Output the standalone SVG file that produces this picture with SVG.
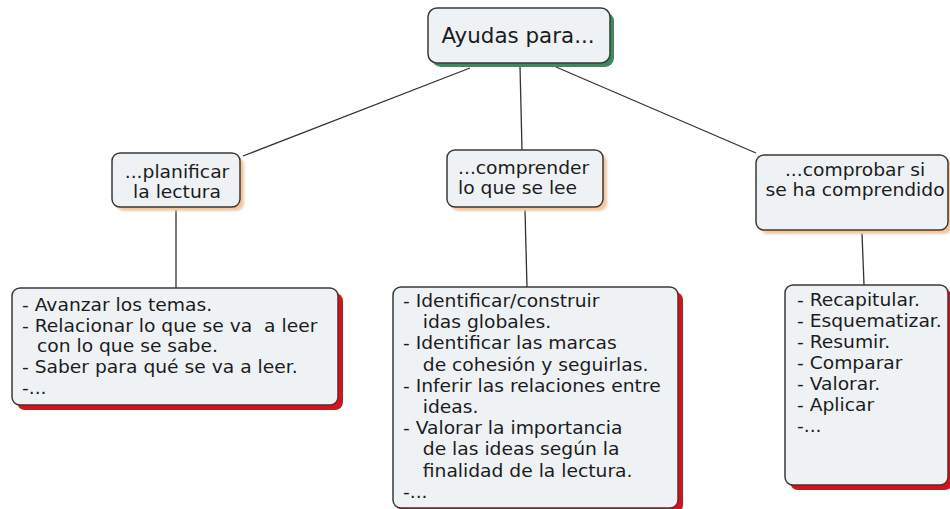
<svg xmlns="http://www.w3.org/2000/svg" width="950" height="509" viewBox="0 0 950 509">
<defs>
<filter id="soft" x="-10%" y="-10%" width="120%" height="130%"><feGaussianBlur stdDeviation="1.2"/></filter>
</defs>
<style>
.box{fill:#eef2f5;stroke:#3a3a3a;stroke-width:1.5}
.sg{fill:#3d8a5c}
.sp{fill:#f6c79e}
.sr{fill:#d8121b}
.t{font-family:"DejaVu Sans",Verdana,sans-serif;font-size:17px;fill:#1c1c1c}
.c{fill:none;stroke:#333;stroke-width:1.3}
</style>
<rect width="950" height="509" fill="#ffffff"/>
<g id="connectors">
<line class="c" x1="470" y1="68" x2="243" y2="156"/>
<line class="c" x1="520" y1="66" x2="522" y2="150"/>
<line class="c" x1="556" y1="67" x2="756" y2="153"/>
<line class="c" x1="176" y1="210" x2="176" y2="288"/>
<line class="c" x1="525" y1="210" x2="527" y2="287"/>
<line class="c" x1="862" y1="233" x2="864" y2="285"/>
</g>
<g id="root">
<rect class="sg" x="432" y="12" width="182" height="55" rx="9"/>
<rect class="box" x="428" y="8" width="182" height="55" rx="9"/>
<g transform="translate(518 43) scale(1.02 1)"><text class="t" style="font-size:21px" text-anchor="middle" x="0" y="0">Ayudas para...</text></g>
</g>
<g id="planificar">
<rect class="sp" x="116" y="157" width="128" height="54" rx="8" filter="url(#soft)"/>
<rect class="box" x="112" y="153" width="128" height="54" rx="8"/>
<g transform="translate(177 0) scale(1.1 1)" class="t" text-anchor="middle">
<text x="0" y="178">...planificar</text>
<text x="0" y="198">la lectura</text>
</g>
</g>
<g id="comprender">
<rect class="sp" x="451" y="154" width="156" height="57" rx="8" filter="url(#soft)"/>
<rect class="box" x="447" y="150" width="156" height="57" rx="8"/>
<g transform="translate(458 0) scale(1.1 1)" class="t">
<text x="0" y="174">...comprender</text>
<text x="0" y="194">lo que se lee</text>
</g>
</g>
<g id="comprobar">
<rect class="sp" x="760" y="159" width="192" height="75" rx="8" filter="url(#soft)"/>
<rect class="box" x="756" y="155" width="192" height="75" rx="8"/>
<g transform="translate(855 0) scale(1.1 1)" class="t" text-anchor="middle">
<text x="0" y="176">...comprobar si</text>
<text x="0" y="196">se ha comprendido</text>
</g>
</g>
<g id="bottom-left">
<rect class="sr" x="17" y="293" width="326" height="117" rx="8"/>
<rect class="box" x="12" y="288" width="326" height="117" rx="8"/>
<g transform="translate(22 0) scale(1.1 1)" class="t">
<text x="0" y="311">- Avanzar los temas.</text>
<text x="0" y="332" xml:space="preserve">- Relacionar lo que se va  a leer</text>
<text x="13.6" y="352.5">con lo que se sabe.</text>
<text x="0" y="373">- Saber para qué se va a leer.</text>
<text x="0" y="394">-...</text>
</g>
</g>
<g id="bottom-middle">
<rect class="sr" x="398" y="292" width="285" height="221" rx="8"/>
<rect class="box" x="393" y="287" width="285" height="221" rx="8"/>
<g transform="translate(403 0) scale(1.1 1)" class="t">
<text x="0" y="307">- Identificar/construir</text>
<text x="18" y="328.2">idas globales.</text>
<text x="0" y="349.4">- Identificar las marcas</text>
<text x="18" y="370.6">de cohesión y seguirlas.</text>
<text x="0" y="391.8">- Inferir las relaciones entre</text>
<text x="18" y="413">ideas.</text>
<text x="0" y="434.2">- Valorar la importancia</text>
<text x="18" y="455.4">de las ideas según la</text>
<text x="18" y="476.6">finalidad de la lectura.</text>
<text x="0" y="497.8">-...</text>
</g>
</g>
<g id="bottom-right">
<rect class="sr" x="790" y="290" width="163" height="200" rx="8"/>
<rect class="box" x="785" y="285" width="163" height="200" rx="8"/>
<g transform="translate(797 0) scale(1.1 1)" class="t">
<text x="0" y="306">- Recapitular.</text>
<text x="0" y="327">- Esquematizar.</text>
<text x="0" y="348">- Resumir.</text>
<text x="0" y="369">- Comparar</text>
<text x="0" y="390">- Valorar.</text>
<text x="0" y="411">- Aplicar</text>
<text x="0" y="432">-...</text>
</g>
</g>
</svg>
